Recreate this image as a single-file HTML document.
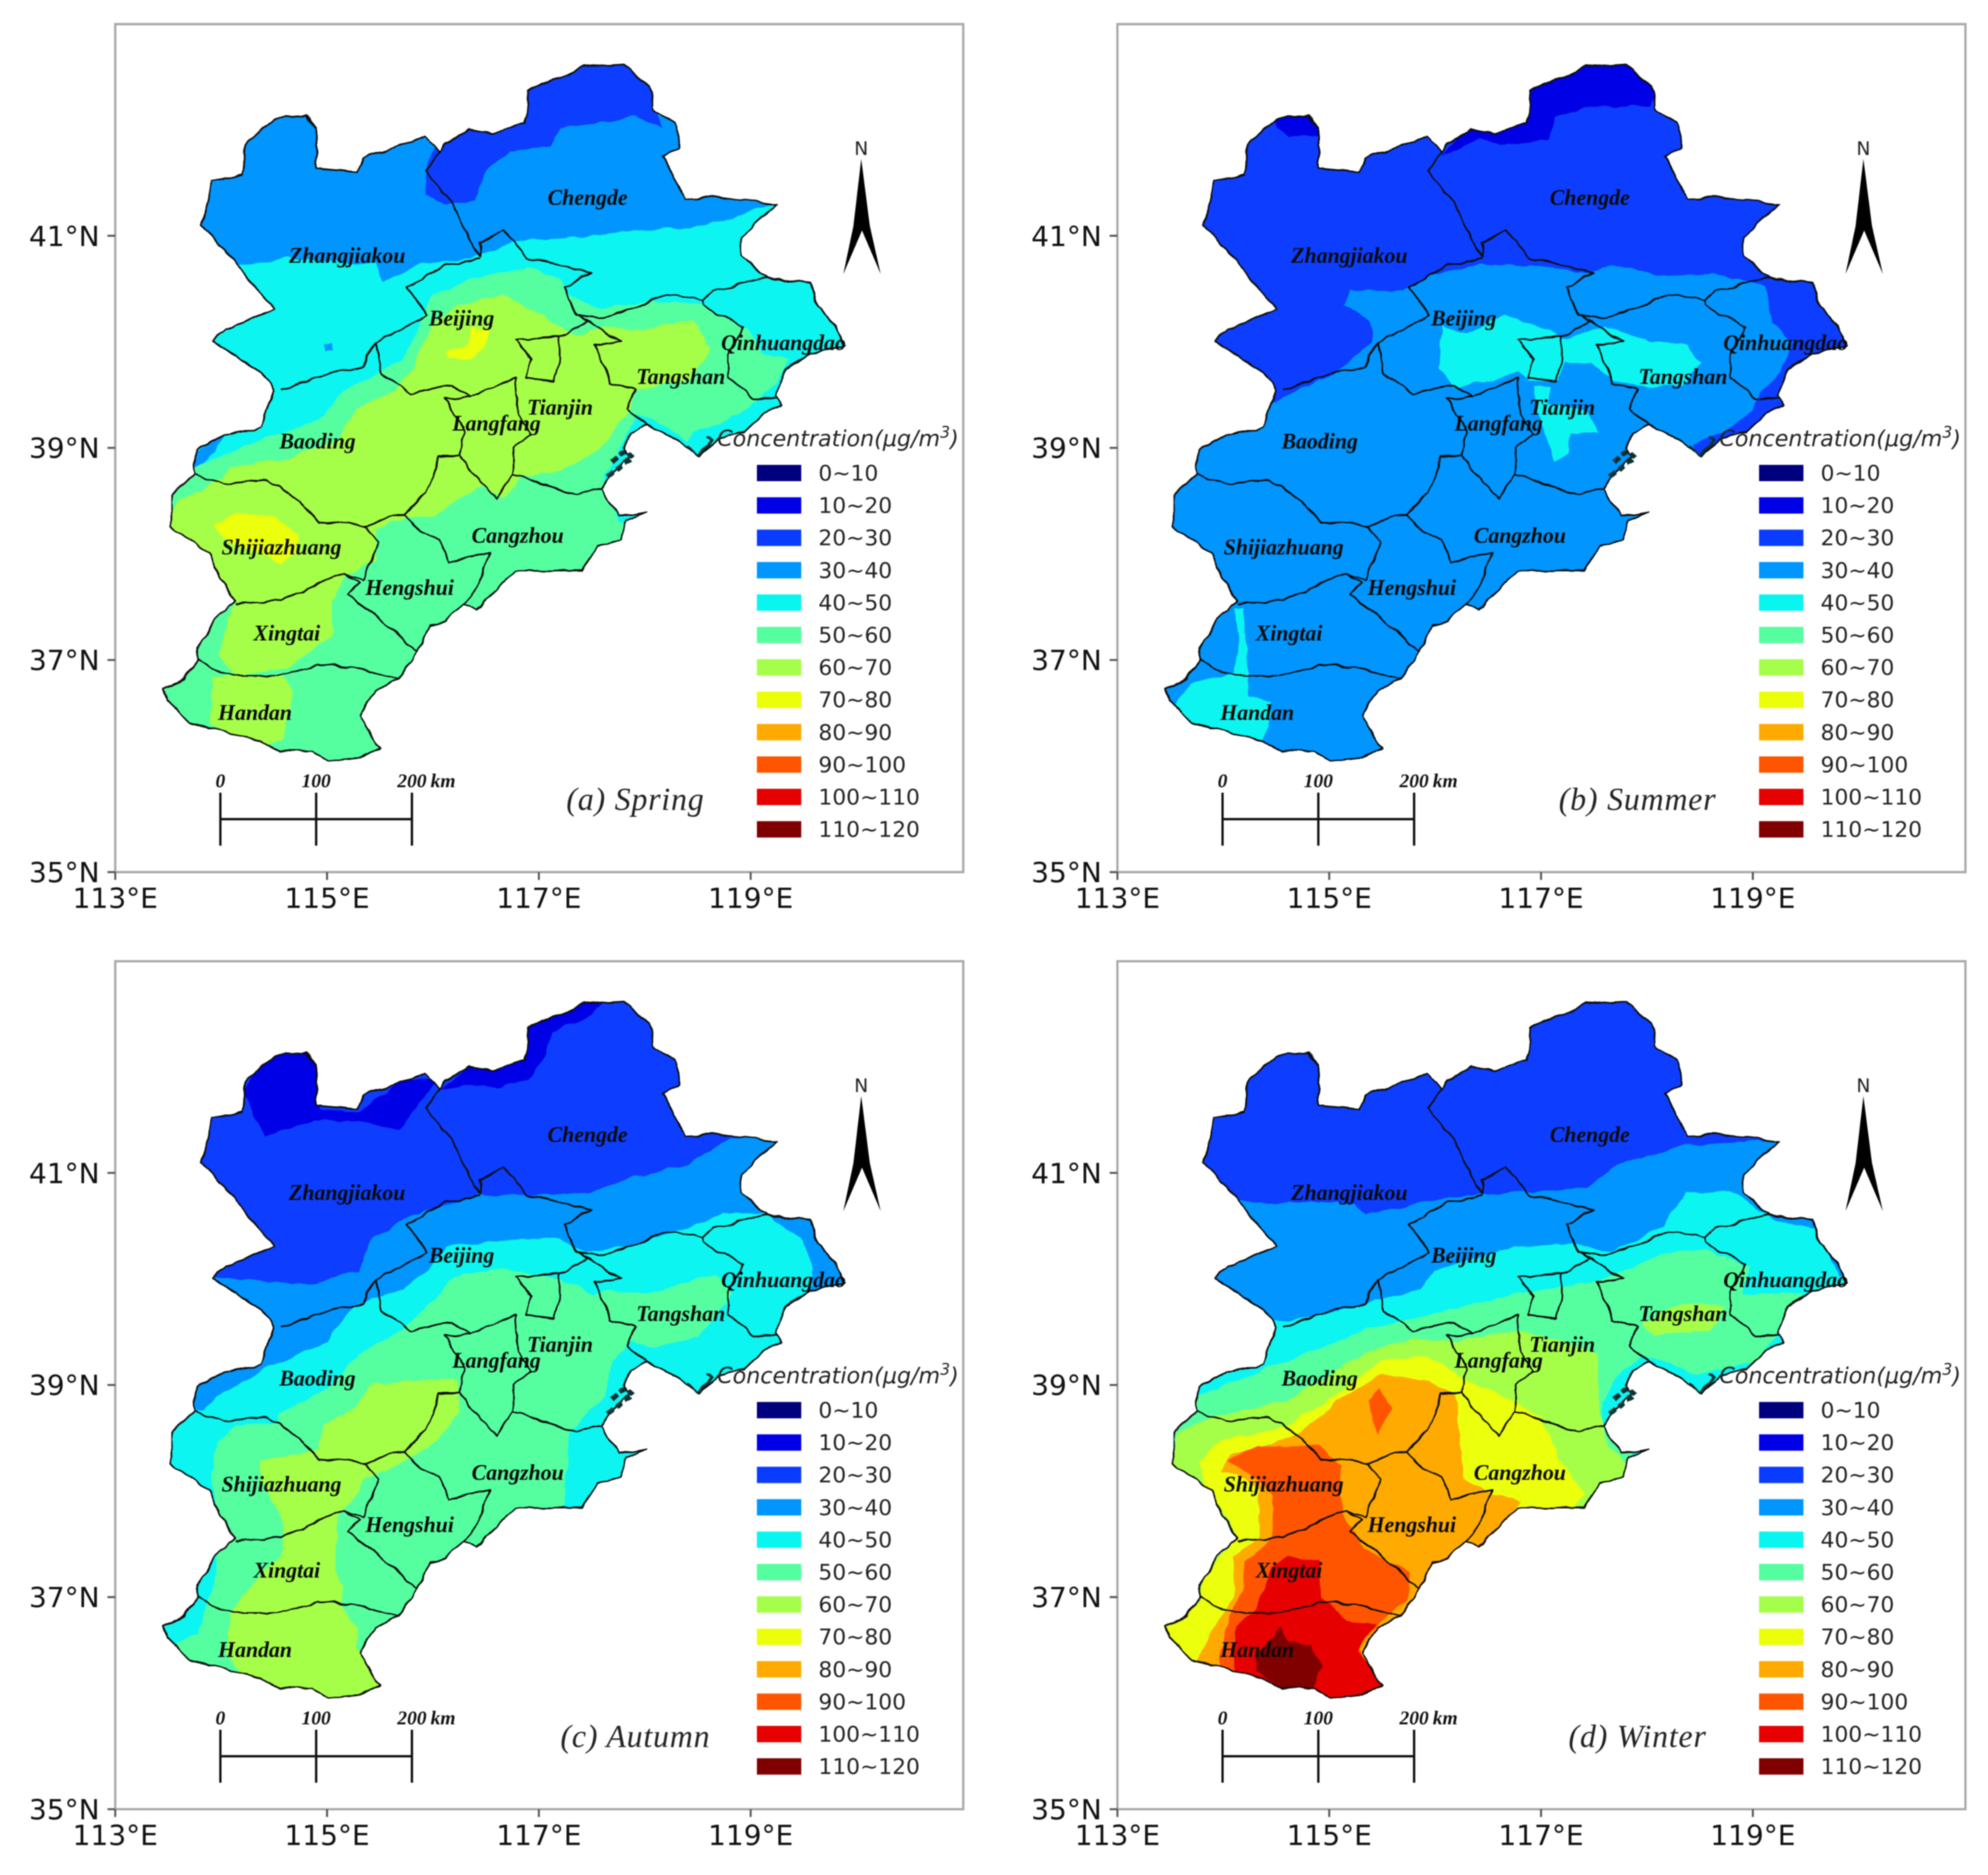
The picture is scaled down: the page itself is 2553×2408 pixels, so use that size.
<!DOCTYPE html>
<html lang="en">
<head>
<meta charset="utf-8">
<title>Seasonal concentration maps</title>
<style>
html,body{margin:0;padding:0;background:#fff;width:2553px;height:2408px;overflow:hidden}
svg{display:block;filter:blur(0.9px)}
.tick{font-family:"DejaVu Sans","Liberation Sans",sans-serif;font-size:36px;fill:#111}
.leg{font-family:"DejaVu Sans","Liberation Sans",sans-serif;font-size:28px;fill:#222}
.legt{font-family:"DejaVu Sans","Liberation Sans",sans-serif;font-size:28.5px;font-style:italic;fill:#222}
.city{font-family:"Liberation Serif",serif;font-size:28px;font-weight:bold;font-style:italic;fill:#0a0a0a}
.sb{font-family:"Liberation Serif",serif;font-size:25px;font-weight:bold;font-style:italic;fill:#111}
.season{font-family:"Liberation Serif",serif;font-size:41px;font-style:italic;fill:#222;letter-spacing:1px}
.north{font-family:"DejaVu Sans","Liberation Sans",sans-serif;font-size:24px;fill:#222}
</style>
</head>
<body>
<svg id="fig" xmlns="http://www.w3.org/2000/svg" width="2553" height="2408" viewBox="0 0 2553 2408">
<defs>
<filter id="rough" x="0" y="0" width="100%" height="100%" filterUnits="objectBoundingBox">
<feTurbulence type="fractalNoise" baseFrequency="0.045" numOctaves="2" seed="4" result="n"/>
<feDisplacementMap in="SourceGraphic" in2="n" scale="8" xChannelSelector="R" yChannelSelector="G"/>
</filter>
</defs>
</svg>
<script>
const xTicks = [113, 115, 117, 119];
const yTicks = [35, 37, 39, 41];
const legendLabels = ["0~10","10~20","20~30","30~40","40~50","50~60","60~70","70~80","80~90","90~100","100~110","110~120"];
const legendColors = ["#00007f","#0000e6","#0a3cff","#0095ff","#08f5f0","#55ff9f","#a5ff4a","#ecff0a","#ffaa00","#ff5500","#e60000","#800000"];
const panelKeys = ["spring","summer","autumn","winter"];
const panelTitles = ["(a) Spring","(b) Summer","(c) Autumn","(d) Winter"];
const panelBaseLevel = [3, 2, 2, 2];
const cityNames = ["Zhangjiakou","Chengde","Beijing","Qinhuangdao","Tangshan","Tianjin","Langfang","Baoding","Shijiazhuang","Cangzhou","Hengshui","Xingtai","Handan"];
const cityLon = [115.19,117.46,116.27,119.31,118.34,117.20,116.60,114.91,114.57,116.80,115.78,114.62,114.32];
const cityLat = [40.81,41.36,40.22,39.99,39.67,39.38,39.23,39.06,38.06,38.17,37.68,37.25,36.50];

// Region outline, lon,lat pairs
const regionOutline = [114.50,42.10,114.80,42.14,114.90,42.01,114.90,41.64,115.28,41.60,115.34,41.73,115.67,41.84,115.92,41.94,116.06,41.77,116.12,41.87,116.33,42.01,116.57,41.97,116.87,42.07,116.90,42.38,117.20,42.49,117.41,42.59,117.80,42.62,118.04,42.41,118.07,42.21,118.28,42.07,118.34,41.84,118.16,41.74,118.29,41.53,118.39,41.35,118.70,41.36,119.25,41.30,119.06,41.13,118.91,40.99,118.91,40.82,119.15,40.61,119.57,40.56,119.63,40.34,119.78,40.17,119.89,39.97,119.54,39.88,119.33,39.74,119.24,39.49,119.30,39.40,119.12,39.32,118.94,39.15,118.70,39.09,118.52,38.92,118.40,39.00,118.16,39.15,118.01,39.23,117.86,39.15,117.80,39.00,117.86,38.92,117.68,38.75,117.59,38.61,117.74,38.35,118.01,38.40,117.83,38.32,117.77,38.13,117.56,38.07,117.41,37.84,116.78,37.84,116.66,37.73,116.42,37.47,116.29,37.53,116.12,37.36,115.97,37.33,115.85,37.08,115.67,36.82,115.46,36.71,115.31,36.48,115.49,36.17,115.31,36.08,115.01,36.05,114.86,36.14,114.56,36.14,114.38,36.23,113.98,36.34,113.71,36.40,113.50,36.62,113.46,36.72,113.65,36.82,113.77,36.99,113.77,37.10,113.95,37.39,114.14,37.56,113.98,37.78,113.89,38.01,113.53,38.25,113.53,38.55,113.74,38.75,113.77,38.98,114.02,39.12,114.38,39.19,114.50,39.54,114.38,39.71,114.10,39.88,113.92,40.01,114.05,40.12,114.50,40.31,114.29,40.56,113.82,41.10,113.92,41.53,114.20,41.58,114.23,41.87];

// Prefecture boundaries
const prefectureLines = [
[116.06,41.77,115.92,41.61,116.21,41.27,116.30,41.05,116.45,40.79],
[116.45,40.78,116.12,40.73,115.76,40.51,115.95,40.25,115.76,40.14,115.46,40.00,115.34,39.77,114.98,39.69,114.56,39.55],
[116.45,40.79,116.45,40.93,116.66,41.05,116.90,40.79,117.50,40.65,117.23,40.51,117.35,40.25,117.47,40.20],
[117.35,40.25,117.62,40.22,118.22,40.45,118.55,40.39,118.64,40.48,119.15,40.61],
[118.55,40.39,118.55,40.34,118.93,40.14,118.79,39.88,118.79,39.66,119.03,39.46,119.25,39.47],
[115.46,40.00,115.52,39.69,115.79,39.51,116.18,39.60,116.36,39.49,116.78,39.66],
[117.47,40.20,117.20,40.05,116.78,40.03,116.93,39.83,116.87,39.66,117.14,39.63,117.20,39.83,117.20,40.05],
[117.47,40.20,117.77,40.00,117.53,39.97,117.68,39.60,117.92,39.54,117.83,39.37,118.01,39.23],
[116.78,39.66,116.81,39.31,116.93,39.12,116.75,39.00,116.75,38.75,116.60,38.52,116.42,38.72,116.24,38.92,116.30,39.15,116.12,39.46,116.36,39.49],
[116.75,38.75,117.08,38.64,117.35,38.57,117.59,38.61],
[116.24,38.92,116.06,38.92,115.94,38.58,115.73,38.38,115.34,38.27,114.92,38.30,114.71,38.52,114.44,38.70,114.02,38.66,113.74,38.75],
[115.73,38.38,115.85,38.24,116.06,38.13,116.15,37.93,116.54,38.01,116.39,37.64,116.29,37.53],
[115.34,38.27,115.49,38.10,115.34,37.76,115.16,37.81,115.07,37.78,114.56,37.56,114.14,37.53],
[115.16,37.81,115.31,37.73,115.19,37.61,115.43,37.44,115.82,37.10,115.85,37.08],
[113.77,37.00,114.10,36.85,114.53,36.85,114.92,36.96,115.22,36.93,115.67,36.82]
];
const coastMarks = [117.69,38.86,117.83,38.98,117.89,38.91,117.71,38.78,117.62,38.71];
const coastHook = [118.40,39.02,118.50,38.93,118.60,39.02,118.63,39.07,118.58,39.10];

// Concentration bands: [legend level, lon,lat ring], painted in order
const springBands = [
[2,[115.92,41.61,116.00,41.81,116.36,42.07,116.87,42.12,116.90,42.41,117.44,42.66,117.83,42.66,118.07,42.41,118.16,42.01,117.92,42.12,117.56,42.07,117.20,42.01,117.11,41.84,116.72,41.78,116.48,41.58,116.39,41.33,116.12,41.30,115.94,41.39]],
[4,[113.71,40.71,114.23,40.73,114.62,40.79,115.46,40.73,115.52,40.56,115.88,40.73,116.36,40.79,116.60,40.88,116.84,40.96,117.44,40.99,117.92,41.05,118.40,41.07,118.82,41.16,119.27,41.33,122,41.33,122,35,112,35,112,40.5]],
[5,[113.41,38.75,113.77,38.83,114.32,39.06,114.92,39.26,115.16,39.54,115.46,39.69,115.70,39.83,115.88,40.17,116.00,40.45,116.36,40.59,116.90,40.71,117.20,40.59,117.26,40.45,117.62,40.31,118.04,40.39,118.58,40.34,118.94,40.14,119.12,39.88,119.36,39.83,119.24,39.60,118.97,39.37,118.70,39.23,118.46,39.15,118.40,39.06,118.16,39.23,117.92,39.32,117.83,39.15,117.74,38.92,117.62,38.75,117.62,38.58,117.74,38.30,117.86,38.30,117.77,38.10,118,37,116,35.5,112.5,35.5,112.5,38.75]],
[3,[113.71,38.92,114.02,39.12,113.95,38.98,113.76,38.80]],
[3,[114.97,39.98,115.05,39.98,115.05,39.92,114.97,39.92]],
[6,[113.45,38.30,113.60,38.50,114.02,38.72,114.08,38.82,114.62,38.90,115.10,39.08,115.28,39.37,115.64,39.54,115.82,39.77,116.00,40.17,116.24,40.34,116.66,40.45,117.08,40.22,117.38,40.05,117.59,40.14,117.98,40.11,118.46,40.22,118.61,39.94,118.46,39.66,117.92,39.54,117.86,39.37,117.68,39.09,117.56,38.98,117.20,38.78,116.84,38.72,116.66,38.52,116.48,38.64,116.24,38.52,116.00,38.35,115.76,38.35,115.46,38.24,115.46,37.95,115.16,37.78,115.04,37.56,115.04,37.22,114.62,36.93,114.14,36.85,113.98,37.05,114.05,37.33,114.14,37.56,113.98,37.78,113.89,38.01]],
[6,[113.92,36.85,114.56,36.85,114.68,36.71,114.59,36.25,114.32,36.17,113.89,36.40]],
[7,[116.12,39.91,116.33,39.97,116.36,40.14,116.53,40.11,116.48,39.94,116.36,39.84,116.15,39.85]],
[7,[113.92,38.27,114.14,38.38,114.50,38.36,114.74,38.18,114.71,38.01,114.56,37.90,114.44,37.98,114.08,38.10]]
];
const summerBands = [
[1,[116.06,41.74,116.27,42.00,116.83,42.19,116.83,42.47,117.37,42.67,117.78,42.67,118.08,42.39,118.02,42.22,117.48,42.22,117.13,42.11,117.07,41.91,116.71,41.85,116.42,41.91,116.18,41.80]],
[1,[114.48,42.14,114.87,42.16,114.90,41.94,114.63,41.94,114.51,42.02]],
[3,[113.68,39.29,114.46,39.41,114.75,39.58,115.05,39.69,115.41,40.00,115.38,40.19,115.14,40.36,115.20,40.48,115.70,40.48,116.00,40.64,116.42,40.73,116.89,40.73,117.43,40.64,117.69,40.73,118.14,40.62,118.61,40.64,119.12,40.53,119.18,40.19,119.39,40.00,119.27,39.74,119.06,39.49,119.00,39.35,118.73,39.15,118.43,39.04,118.5,38.85,122,38.8,122,35,112,35,112,39.3]],
[4,[116.06,40.14,116.30,40.08,116.65,40.25,117.07,40.11,117.22,40.03,117.60,40.14,117.96,40.03,118.38,39.97,118.52,39.80,118.32,39.58,117.90,39.58,117.69,39.63,117.48,39.80,117.22,39.80,117.16,39.63,116.89,39.63,116.77,39.72,116.53,39.63,116.18,39.58,116.03,39.74]],
[4,[116.92,39.58,117.10,39.58,117.07,39.41,117.43,39.35,117.54,39.15,117.28,39.13,117.25,38.93,117.13,38.87,117.04,39.13,116.98,39.29]],
[4,[114.11,37.49,114.19,37.49,114.23,36.87,114.25,36.65,114.46,36.60,114.43,36.42,114.37,36.20,113.68,36.40,113.53,36.54,113.68,36.79,114.10,36.87,114.15,37.21]]
];
const autumnBands = [
[1,[114.20,41.74,114.41,42.16,114.91,42.16,114.94,41.60,115.30,41.57,115.71,41.88,116.04,41.88,115.83,41.60,115.68,41.40,115.30,41.49,114.88,41.49,114.41,41.35,114.29,41.60]],
[1,[116.07,41.77,116.34,42.02,116.84,42.16,116.84,42.47,117.41,42.67,117.65,42.67,117.50,42.50,117.14,42.33,117.05,42.08,116.90,41.88,116.61,41.80,116.31,41.83]],
[3,[113.69,40.03,114.47,39.98,114.82,39.94,115.30,40.08,115.42,40.36,115.77,40.59,116.43,40.79,116.96,40.79,117.50,40.81,117.85,40.95,118.39,41.07,118.80,41.32,119.28,41.35,122,41.35,122,35,112,35,112,39.9]],
[4,[113.46,38.73,113.84,38.76,113.96,38.90,114.47,39.18,115.00,39.41,115.24,39.74,115.71,39.91,115.95,40.08,116.13,40.31,116.66,40.36,117.14,40.39,117.44,40.25,117.85,40.31,118.39,40.48,118.74,40.62,119.16,40.62,119.49,40.36,119.58,40.14,119.58,39.94,119.52,39.86,122,39.8,122,35,112,35,112,38.73]],
[5,[113.90,38.17,113.96,38.45,114.14,38.62,114.53,38.65,114.56,38.73,115.00,38.96,115.30,39.29,115.71,39.52,116.01,39.80,116.19,40.03,116.66,40.11,117.20,40.00,117.50,39.86,117.67,39.89,118.03,39.86,118.68,40.05,118.83,39.86,118.51,39.46,118.09,39.35,117.85,39.41,117.70,39.18,117.62,38.90,117.29,38.56,117.24,37.86,116.66,37.61,116.5,36,113.46,35.92,113.52,36.54,113.78,36.65,113.84,36.87,113.93,37.10,113.96,37.38,114.11,37.55,113.96,37.83]],
[6,[114.91,38.39,114.97,38.62,115.27,38.79,115.42,39.01,116.22,39.07,116.25,38.73,116.01,38.45,115.83,38.34,115.36,38.11,115.30,38.00,115.09,37.75,115.06,37.27,115.17,37.10,115.12,36.93,115.30,36.71,115.27,36.54,115.54,36.20,115.42,35.92,114.41,35.92,114.06,36.48,114.08,36.82,114.26,37.10,114.56,37.38,114.59,37.66,114.53,37.83,114.38,38.08,114.36,38.28,114.65,38.34]]
];
const winterBands = [
[3,[113.83,40.78,114.37,40.72,115.23,40.72,115.34,40.61,116.20,40.78,117.44,40.86,117.74,41.09,118.36,41.26,119.25,41.31,122,41.3,122,35,112,35,112,40.7]],
[4,[114.26,39.58,114.53,39.60,115.07,39.69,115.45,39.80,115.88,39.91,115.99,40.08,116.74,40.30,117.34,40.33,117.66,40.25,118.15,40.50,118.36,40.81,118.79,40.84,119.17,40.58,119.60,40.47,119.82,40.02,122,40,122,35,112,35,112,39.3]],
[5,[113.29,38.74,113.77,38.90,114.42,39.16,115.34,39.52,116.09,39.69,116.80,39.86,117.50,39.97,118.20,40.25,118.55,40.28,118.96,40.11,118.90,39.86,119.47,39.86,119.28,39.52,119.01,39.21,118.47,39.10,118.15,39.24,117.93,39.27,117.77,39.13,117.58,38.85,117.58,38.57,117.88,38.34,118,37,116,35,112,35,112,38.7]],
[6,[117.96,39.58,118.31,39.77,118.74,39.74,118.61,39.52,118.09,39.47]],
[6,[113.53,38.34,113.56,38.54,113.83,38.68,114.58,38.85,115.34,39.30,115.77,39.44,116.15,39.41,116.80,39.52,117.53,39.30,117.55,38.79,117.63,38.40,117.85,38.23,117.61,38.01,118,37.6,116.5,35.8,113,35.8,113,38.34]],
[7,[113.77,38.29,113.99,38.48,114.58,38.60,115.07,38.90,115.50,39.24,115.93,39.27,116.26,39.07,116.74,38.85,117.01,38.68,117.15,38.34,117.42,37.98,117.28,37.78,116.53,37.50,115.5,36,113.3,36,113.3,36.75,113.77,36.94,113.80,37.17,114.04,37.45,114.15,37.56,114.04,37.73,113.85,38.04]],
[8,[113.96,38.20,114.07,38.34,114.53,38.48,114.72,38.54,115.07,38.85,115.50,39.10,115.93,39.04,116.20,38.90,116.25,38.40,116.26,38.12,116.53,37.98,116.80,37.90,116.53,37.50,116,36.5,115,35.8,113.6,35.8,113.75,36.36,113.91,36.72,114.10,37.00,114.10,37.39,114.34,37.56,114.34,38.01,114.20,38.12]],
[9,[115.37,38.85,115.47,38.96,115.58,38.79,115.47,38.54,115.39,38.68]],
[9,[114.04,38.29,114.31,38.43,114.91,38.43,115.10,38.23,115.12,37.78,115.34,37.45,115.77,37.22,115.74,36.97,115.50,36.78,115.28,36.52,115.5,35.9,114,35.9,113.96,36.41,114.04,36.78,114.18,37.06,114.20,37.34,114.47,37.56,114.47,37.95,114.31,38.12]],
[10,[114.37,37.06,114.47,37.28,114.61,37.39,114.91,37.34,114.93,37.00,115.18,36.78,115.45,36.75,115.26,36.50,115.50,36.22,115.5,35.88,114.10,35.88,114.11,36.72,114.31,36.89]],
[11,[114.53,36.72,114.61,36.58,114.83,36.55,114.93,36.33,114.83,36.10,114.58,36.13,114.31,36.30,114.31,36.47,114.47,36.61]]
];
const seasonBands = [springBands, summerBands, autumnBands, winterBands];

const svgNS = "http://www.w3.org/2000/svg";
const fig = document.getElementById("fig");
const lonToX = lon => 148 + (lon - 113) * 136;
const latToY = lat => 1120 - (lat - 35) * 136.2;
function pointsOf(flat) {
  const out = [];
  for (let i = 0; i + 1 < flat.length; i += 2) {
    out.push(lonToX(flat[i]).toFixed(1) + "," + latToY(flat[i + 1]).toFixed(1));
  }
  return out.join(" ");
}
function make(tag, parent, attrs, text) {
  const el = document.createElementNS(svgNS, tag);
  for (const k in attrs) el.setAttribute(k, attrs[k]);
  if (text !== undefined) el.textContent = text;
  parent.appendChild(el);
  return el;
}

panelKeys.forEach((key, p) => {
  const g = make("g", fig, { transform: "translate(" + (p % 2) * 1287 + "," + Math.floor(p / 2) * 1203.5 + ")" });
  
  

  const clip = make("clipPath", g, { id: "clip-" + key });
  make("polygon", clip, { points: pointsOf(regionOutline) });

  const frame = make("rect", g, { x: 148, y: 31, width: 1089, height: 1089, fill: "#fff", stroke: "#aaa", "stroke-width": 3 });
  
  

  const mapG = make("g", g, { filter: "url(#rough)" });
  
  

  const bandsG = make("g", mapG, { "clip-path": "url(#clip-" + key + ")" });
  
  

  const base = make("polygon", bandsG, { points: pointsOf(regionOutline), fill: legendColors[panelBaseLevel[p]] });
  
  

  seasonBands[p].forEach(band => {
    const poly = make("polygon", bandsG, { points: pointsOf(band[1]), fill: legendColors[band[0]] });
    
    
  });

  const outline = make("polygon", mapG, { points: pointsOf(regionOutline), fill: "none", stroke: "#111", "stroke-width": 2.2, "stroke-linejoin": "round" });
  
  

  prefectureLines.forEach(line => {
    const l = make("polyline", mapG, { points: pointsOf(line), fill: "none", stroke: "#111", "stroke-width": 2.2, "stroke-linejoin": "round" });
    
    
  });
  const coast = make("polyline", mapG, { points: pointsOf(coastMarks), fill: "none", stroke: "#0b3030", "stroke-width": 6, "stroke-dasharray": "9 5" });
  
  
  const hook = make("polyline", mapG, { points: pointsOf(coastHook), fill: "none", stroke: "#0b3030", "stroke-width": 3 });
  
  

  cityNames.forEach((name, i) => {
    const t = make("text", g, { x: lonToX(cityLon[i]), y: latToY(cityLat[i]) + 9, "text-anchor": "middle", class: "city" }, name);
    
    
  });

  xTicks.forEach(v => {
    const tk = make("line", g, { x1: lonToX(v), x2: lonToX(v), y1: 1120, y2: 1130, stroke: "#555", "stroke-width": 2.5 });
    
    
    const t = make("text", g, { x: lonToX(v), y: 1166, "text-anchor": "middle", class: "tick" }, v + "°E");
    
    
  });
  yTicks.forEach(v => {
    const tk = make("line", g, { x1: 138, x2: 148, y1: latToY(v), y2: latToY(v), stroke: "#555", "stroke-width": 2.5 });
    
    
    const t = make("text", g, { x: 128, y: latToY(v) + 13, "text-anchor": "end", class: "tick" }, v + "°N");
    
    
  });

  const lt = make("text", g, { x: 921, y: 573, class: "legt" });
  
  
  lt.textContent = "Concentration(μg/m";
  make("tspan", lt, { dy: -11, "font-size": "20" }, "3");
  make("tspan", lt, { dy: 11 }, ")");

  legendLabels.forEach((lab, i) => {
    const y = 607 + i * 41.6;
    const sw = make("rect", g, { x: 972, y: y - 10, width: 57, height: 21, fill: legendColors[i] });
    
    
    const t = make("text", g, { x: 1051, y: y + 10, class: "leg" }, lab);
    
    
  });

  const scale = make("g", g, {});
  
  
  make("line", scale, { x1: 283, x2: 529, y1: 1052, y2: 1052, stroke: "#111", "stroke-width": 3 });
  [283, 406, 529].forEach(x => make("line", scale, { x1: x, x2: x, y1: 1018, y2: 1086, stroke: "#111", "stroke-width": 3 }));
  make("text", scale, { x: 283, y: 1011, "text-anchor": "middle", class: "sb" }, "0");
  make("text", scale, { x: 406, y: 1011, "text-anchor": "middle", class: "sb" }, "100");
  make("text", scale, { x: 529, y: 1011, "text-anchor": "middle", class: "sb" }, "200");
  make("text", scale, { x: 553, y: 1011, class: "sb" }, "km");

  const na = make("polygon", g, { points: "1106,204 1117,290 1131,352 1107,296 1083,352 1096,290", fill: "#000" });
  
  
  const nt = make("text", g, { x: 1106, y: 199, "text-anchor": "middle", class: "north" }, "N");
  
  

  const st = make("text", g, { x: 816, y: 1040, "text-anchor": "middle", class: "season" }, panelTitles[p]);
  
  
});
</script>
</body>
</html>
